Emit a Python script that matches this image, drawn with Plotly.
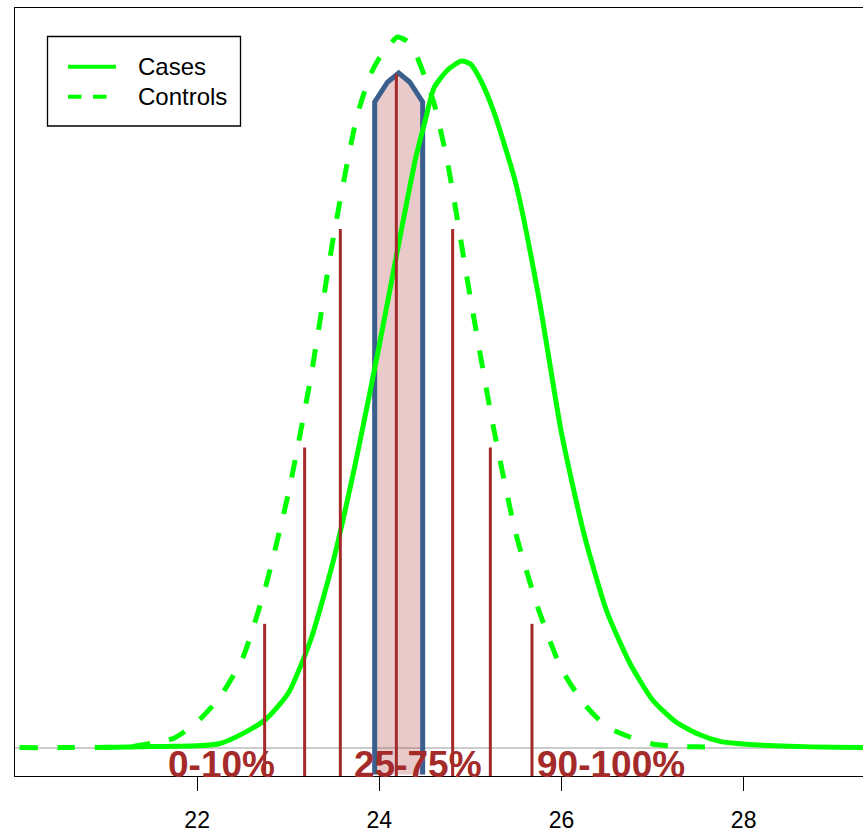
import plotly.graph_objects as go

# ---- data ----
controls_x = [20.05, 20.5, 21.0, 21.25, 21.5, 21.75, 22.0, 22.25, 22.5, 22.75, 23.0, 23.25,
              23.5, 23.75, 23.9, 24.0, 24.1, 24.2, 24.3, 24.4, 24.5, 24.6, 24.75, 25.0, 25.25,
              25.5, 25.75, 26.0, 26.25, 26.5, 26.75, 27.0, 27.25, 27.5, 27.79]
controls_y = [0.0, 0.0, 0.0002, 0.0005, 0.0035, 0.0077, 0.0205, 0.0405, 0.0717, 0.1285, 0.2029,
              0.2973, 0.4101, 0.5037, 0.538, 0.5517, 0.5613, 0.5685, 0.5653, 0.5549, 0.5365,
              0.5157, 0.4677, 0.3597, 0.2573, 0.1709, 0.1101, 0.0629, 0.0349, 0.0165, 0.0085,
              0.0029, 0.001, 0.0006, 0.0003]

cases_x = [20.96, 21.25, 21.5, 21.75, 22.0, 22.25, 22.5, 22.75, 23.0, 23.25, 23.5, 23.75, 24.0,
           24.25, 24.4, 24.5, 24.6, 24.75, 24.9, 25.0, 25.1, 25.25, 25.5, 25.75, 26.0, 26.25,
           26.5, 26.75, 27.0, 27.25, 27.5, 27.75, 28.0, 28.5, 29.0, 29.31]
cases_y = [0.0, 0.0005, 0.0008, 0.0011, 0.0014, 0.0033, 0.0112, 0.0225, 0.0435, 0.0869, 0.1509,
           0.2317, 0.3221, 0.417, 0.472, 0.5005, 0.5277, 0.5421, 0.5493, 0.5469, 0.5357,
           0.5101, 0.4509, 0.3605, 0.2517, 0.1701, 0.1085, 0.0677, 0.0381, 0.0209, 0.0109,
           0.0048, 0.0029, 0.001, 0.0003, 0.0001]

quantile_x = [22.741, 23.180, 23.572, 24.187, 24.805, 25.219, 25.676]
quantile_top = [0.099, 0.240, 0.415, 0.539, 0.415, 0.240, 0.099]

poly_x = [23.949, 23.949, 24.092, 24.213, 24.333, 24.476, 24.476]
poly_y = [-0.0215, 0.5165, 0.5325, 0.5397, 0.5325, 0.5165, -0.0215]

label_x = [22.267, 24.42, 26.547]
label_text = ["0-10%", "25-75%", "90-100%"]

tick_vals = [22, 24, 26, 28]
series_names = ["Cases", "Controls"]

X_RANGE = [20.0, 29.3105]
Y_RANGE = [-0.0227, 0.5917]

GREEN = "#00FF00"
BROWN = "#A52A2A"
BLUE = "#3A5F8D"
FONT = "Liberation Sans, Arial, Helvetica, sans-serif"

W, H = 863, 833
ML, MR, MT, MB = 15, 0, 8, 57


def PX(px):
    return (px - ML) / (W - ML - MR)


def PY(py):
    return (H - MB - py) / (H - MT - MB)


fig = go.Figure()

# shaded polygon
fig.add_trace(go.Scatter(x=poly_x, y=poly_y, mode="lines", fill="toself",
                         fillcolor="rgba(165,42,42,0.25)",
                         line=dict(color=BLUE, width=5), hoverinfo="skip",
                         showlegend=False))

# densities
fig.add_trace(go.Scatter(x=cases_x, y=cases_y, mode="lines", name=series_names[0],
                         line=dict(color=GREEN, width=5, shape="spline", smoothing=0.6),
                         showlegend=False))
fig.add_trace(go.Scatter(x=controls_x, y=controls_y, mode="lines", name=series_names[1],
                         line=dict(color=GREEN, width=5, dash="18px,19.5px",
                                   shape="spline", smoothing=0.6),
                         showlegend=False))

# quantile segments
seg_x, seg_y = [], []
for qx, qt in zip(quantile_x, quantile_top):
    seg_x += [qx, qx, None]
    seg_y += [Y_RANGE[0] - 0.01, qt, None]
fig.add_trace(go.Scatter(x=seg_x, y=seg_y, mode="lines",
                         line=dict(color=BROWN, width=3), hoverinfo="skip",
                         showlegend=False))

# percentage labels
for lx, lt in zip(label_x, label_text):
    fig.add_annotation(x=lx, y=-0.0135, xref="x", yref="y", text=lt, showarrow=False,
                       xanchor="center", yanchor="middle",
                       font=dict(family=FONT, size=37, color=BROWN, weight="bold"))

# legend (drawn manually, R style)
fig.add_shape(type="rect", xref="paper", yref="paper",
              x0=PX(47.5), x1=PX(240.5), y0=PY(126), y1=PY(36.5),
              line=dict(color="black", width=1.3), fillcolor="white", layer="above")
fig.add_shape(type="line", xref="paper", yref="paper",
              x0=PX(68), x1=PX(116), y0=PY(66.7), y1=PY(66.7),
              line=dict(color=GREEN, width=4), layer="above")
fig.add_shape(type="line", xref="paper", yref="paper",
              x0=PX(68), x1=PX(116), y0=PY(96.7), y1=PY(96.7),
              line=dict(color=GREEN, width=4, dash="13.5px,11.5px"), layer="above")
for name, py in zip(series_names, [66, 97]):
    fig.add_annotation(x=PX(136), y=PY(py), xref="paper", yref="paper", text=name,
                       showarrow=False, xanchor="left", yanchor="middle",
                       font=dict(family=FONT, size=24, color="black"))

fig.update_layout(
    width=W, height=H, template="none",
    margin=dict(l=ML, r=MR, t=MT, b=MB, pad=0),
    paper_bgcolor="white", plot_bgcolor="white",
    showlegend=False,
    font=dict(family=FONT, color="black"),
    xaxis=dict(range=X_RANGE, tickvals=tick_vals, ticktext=[str(v) for v in tick_vals],
               ticks="outside", ticklen=14, tickwidth=1.3, tickcolor="black",
               tickfont=dict(family=FONT, size=23, color="black"),
               ticklabelstandoff=9,
               showline=True, linecolor="black", linewidth=1.3, mirror=True,
               showgrid=False, zeroline=False, automargin=False, fixedrange=True),
    yaxis=dict(range=Y_RANGE, showticklabels=False, ticks="", showgrid=False,
               zeroline=True, zerolinecolor="#CCCCCC", zerolinewidth=2,
               showline=True, linecolor="black", linewidth=1.3, mirror=False,
               automargin=False, fixedrange=True),
)

fig.write_html("out.html")
